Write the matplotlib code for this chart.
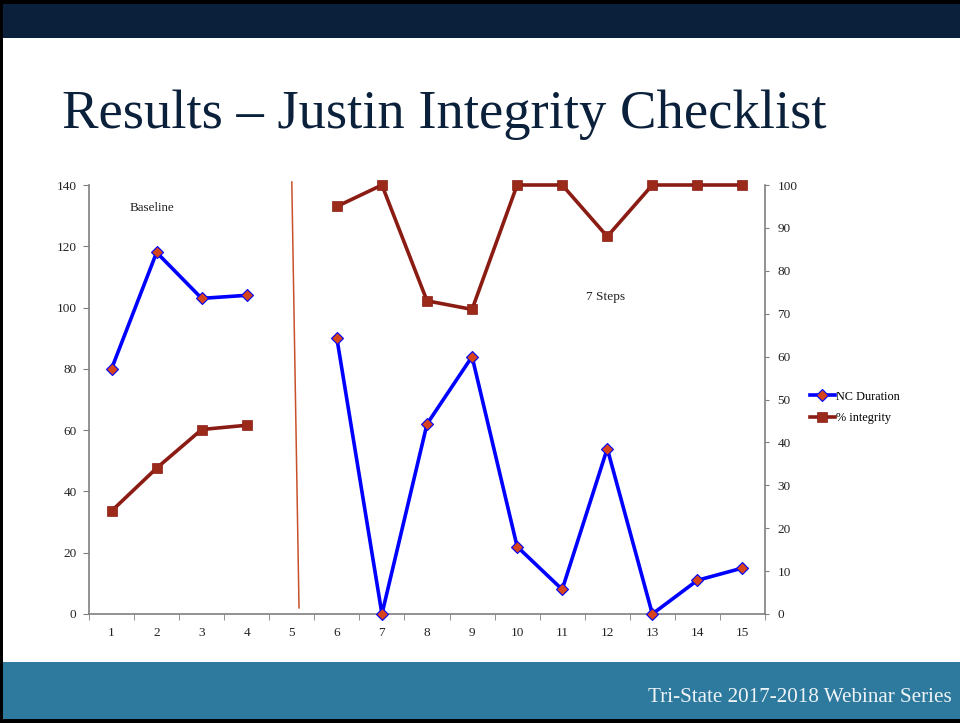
import numpy as np
import matplotlib.pyplot as plt
from matplotlib.patches import Rectangle
from matplotlib.lines import Line2D

# datos
sesiones = list(range(1, 16))
nc_duracion = [80, 118, 103, 104, np.nan, 90, 0, 62, 84, 22, 8, 54, 0, 11, 15]
integridad = [24, 34, 43, 44, np.nan, 95, 100, 73, 71, 100, 100, 88, 100, 100, 100]

serif = ["Liberation Serif", "DejaVu Serif"]
plt.rcParams["font.family"] = serif

W, H = 960, 723
fig = plt.figure(figsize=(W / 100, H / 100), dpi=100, facecolor="black")

def px_rect(x0, y0, x1, y1, color):
    fig.patches.append(Rectangle((x0 / W, 1 - y1 / H), (x1 - x0) / W, (y1 - y0) / H,
                                 transform=fig.transFigure, facecolor=color,
                                 edgecolor="none", zorder=-5))

# fondo de la diapositiva
px_rect(3, 4, 960, 719, "white")
px_rect(3, 4, 960, 38, "#0b203a")
px_rect(3, 662, 960, 719, "#2d7a9e")

fig.text(62 / W, 1 - 128 / H, "Results \u2013 Justin Integrity Checklist",
         fontsize=39.3, color="#0b203a", va="baseline", ha="left")
fig.text(952 / W, 1 - 702 / H, "Tri-State 2017-2018 Webinar Series",
         fontsize=15.2, color="#eef3f6", va="baseline", ha="right")

gris = "#7f7f7f"
texto = "#222222"
ax = fig.add_axes([89 / W, 1 - 614 / H, 676 / W, 429 / H])
ax.set_facecolor("none")
ax2 = ax.twinx()

ax.plot(sesiones, nc_duracion, color="#0000ff", lw=2.6, marker="D", ms=6,
        mfc="#d5441c", mec="#0000ff", mew=0.8, zorder=3, clip_on=False)
ax2.plot(sesiones, integridad, color="#8b1c14", lw=2.6, marker="s", ms=7.5,
         mfc="#9c2a1b", mec="#8b1c14", mew=0.5, zorder=3, clip_on=False)

ax.set_xlim(0.5, 15.5)
ax.set_ylim(0, 140)
ax2.set_ylim(0, 100)
ax.set_yticks(range(0, 141, 20))
ax2.set_yticks(range(0, 101, 10))
ax.set_xticks(sesiones)
ax.set_xticks(np.arange(0.5, 15.6, 1), minor=True)
ax.tick_params(axis="x", which="major", length=0, pad=9, labelsize=9.5, labelcolor=texto)
ax.tick_params(axis="x", which="minor", length=4, color=gris, direction="out")
ax.tick_params(axis="y", length=4, color=gris, labelsize=9.5, labelcolor=texto, pad=5)
ax2.tick_params(axis="y", length=3, color=gris, labelsize=9.5, labelcolor=texto, pad=6)

for a in (ax, ax2):
    a.spines["top"].set_visible(False)
    for s in ("left", "right", "bottom"):
        a.spines[s].set_color(gris)
        a.spines[s].set_linewidth(1.2)
ax.spines["right"].set_visible(False)
ax2.spines["left"].set_visible(False)
ax2.spines["bottom"].set_visible(False)

# linea de cambio de fase
ax.plot([5.0, 5.16], [141, 2], color="#c8502a", lw=1.1, clip_on=False, zorder=2)

ax.text(1.9, 132.5, "Baseline", fontsize=9.4, ha="center", va="center", color=texto)
ax.text(11.97, 103.5, "7 Steps", fontsize=9.6, ha="center", va="center", color=texto)

handles = [
    Line2D([], [], color="#0000ff", lw=2.6, marker="D", ms=6, mfc="#d5441c", mec="#0000ff", mew=0.8),
    Line2D([], [], color="#8b1c14", lw=2.6, marker="s", ms=7.5, mfc="#9c2a1b", mec="#8b1c14", mew=0.5),
]
fig.legend(handles, ["NC Duration", "% integrity"], loc="center left",
           bbox_to_anchor=(804 / W, 1 - 407.5 / H), frameon=False, fontsize=8.8,
           handlelength=2.0, handletextpad=0.15, labelspacing=0.8, borderpad=0)

fig.savefig("out.png", dpi=100, facecolor=fig.get_facecolor())
